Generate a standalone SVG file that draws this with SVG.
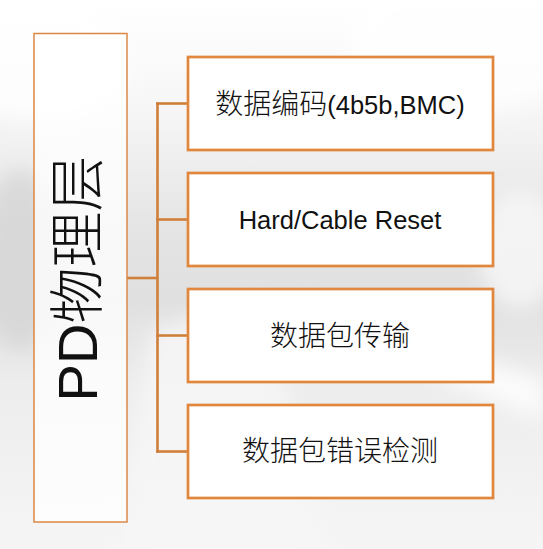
<svg xmlns="http://www.w3.org/2000/svg" width="543" height="549" viewBox="0 0 543 549">
  <style>
    .box { fill: #ffffff; stroke: #E0873D; stroke-width: 2.7; }
    .side { fill: #ffffff; fill-opacity: 0.78; stroke: #DA8845; stroke-width: 1.5; }
    .conn { fill: none; stroke: #CF7F3A; stroke-width: 2.6; }
    .lbl { font-family: "Liberation Sans", "Noto Sans CJK SC", sans-serif; fill: #111111; text-anchor: middle; }
    .cjk { font-family: "Noto Sans CJK SC", sans-serif; font-size: 28px; font-weight: 300; }
    .lat { font-family: "Liberation Sans", sans-serif; font-size: 25.5px; }
  </style>
  <defs>
    <linearGradient id="bg" x1="0" y1="0" x2="0" y2="1">
      <stop offset="0" stop-color="#ffffff"/>
      <stop offset="0.2" stop-color="#f6f6f6"/>
      <stop offset="0.42" stop-color="#e4e4e4"/>
      <stop offset="0.55" stop-color="#e0e0e0"/>
      <stop offset="0.7" stop-color="#ededed"/>
      <stop offset="1" stop-color="#f5f5f5"/>
    </linearGradient>
    <filter id="blur" x="-30%" y="-30%" width="160%" height="160%">
      <feGaussianBlur stdDeviation="10"/>
    </filter>
  </defs>

  <!-- background -->
  <rect x="0" y="0" width="543" height="549" fill="url(#bg)"/>
  <g filter="url(#blur)" opacity="0.8">
    <ellipse cx="470" cy="40" rx="120" ry="70" fill="#ffffff"/>
    <ellipse cx="40" cy="60" rx="90" ry="60" fill="#ffffff"/>
    <polygon points="300,300 543,380 543,420 300,320" fill="#ffffff"/>
    <polygon points="150,330 260,300 330,549 120,549" fill="#f7f7f7"/>
    <ellipse cx="20" cy="260" rx="40" ry="90" fill="#d6d6d6"/>
    <ellipse cx="520" cy="250" rx="40" ry="60" fill="#f8f8f8"/>
  </g>

  <!-- connectors -->
  <g id="connectors">
    <line class="conn" x1="127" y1="278" x2="157.5" y2="278"/>
    <line class="conn" x1="157.5" y1="102.2" x2="157.5" y2="452.8"/>
    <line class="conn" x1="156.2" y1="103.5" x2="188" y2="103.5"/>
    <line class="conn" x1="156.2" y1="219.5" x2="188" y2="219.5"/>
    <line class="conn" x1="156.2" y1="335.5" x2="188" y2="335.5"/>
    <line class="conn" x1="156.2" y1="451.5" x2="188" y2="451.5"/>
  </g>

  <!-- left node -->
  <g id="pd-layer">
    <rect class="side" x="34" y="33.5" width="93" height="488.5"/>
    <text class="lbl" transform="translate(97,278.5) rotate(-90)" font-size="56"><tspan>PD</tspan><tspan font-family="Noto Sans CJK SC, sans-serif" font-weight="300">物理层</tspan></text>
  </g>

  <g id="node-encoding">
    <rect class="box" x="188" y="57" width="305" height="93"/>
    <text class="lbl" x="340" y="113.5"><tspan class="cjk">数据编码</tspan><tspan class="lat">(4b5b,BMC)</tspan></text>
  </g>

  <g id="node-reset">
    <rect class="box" x="188" y="173" width="305" height="93"/>
    <text class="lbl lat" x="340" y="228.5">Hard/Cable Reset</text>
  </g>

  <g id="node-transfer">
    <rect class="box" x="188" y="289" width="305" height="93"/>
    <text class="lbl cjk" x="340" y="345.5">数据包传输</text>
  </g>

  <g id="node-error">
    <rect class="box" x="188" y="405" width="305" height="93"/>
    <text class="lbl cjk" x="340" y="461">数据包错误检测</text>
  </g>
</svg>
